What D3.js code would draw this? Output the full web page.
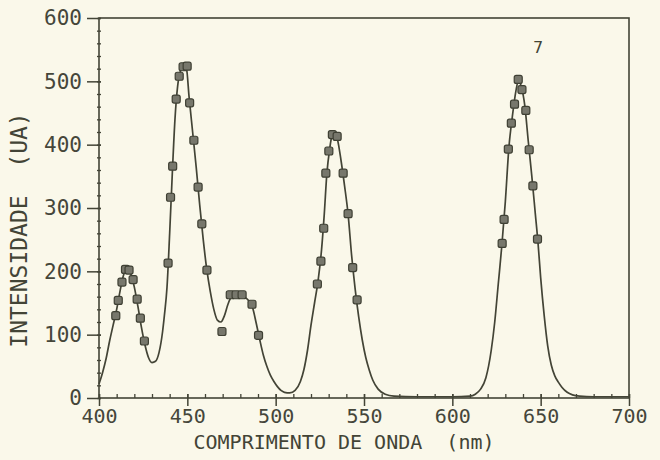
<!DOCTYPE html>
<html>
<head>
<meta charset="utf-8">
<script src="https://cdn.jsdelivr.net/npm/d3@7"></script>
<style>
  html, body { margin: 0; padding: 0; background: #faf8ea; }
  svg { display: block; }
  .axis text { font-family: "DejaVu Sans Mono", monospace; fill: #45463a; }
</style>
</head>
<body>
<div id="chart"></div>
<script>
// wavelength ticks and intensity ticks
const xTicks = [400, 450, 500, 550, 600, 650, 700];
const yTicks = [0, 100, 200, 300, 400, 500, 600];

// measured points (nm, UA)
const pointNm = [409.5, 410.9, 413.0, 415.0, 417.0, 419.3, 421.6, 423.4, 425.7,
  439.1, 440.5, 441.7, 443.7, 445.4, 447.6, 449.9, 451.3, 453.7, 456.1, 458.2, 461.1,
  469.6, 474.3, 477.6, 481.0, 486.6, 490.3,
  523.6, 525.6, 527.2, 528.4, 530.1, 532.1, 534.8, 538.2, 541.0, 543.6, 546.1,
  628.2, 629.3, 631.7, 633.4, 635.2, 637.3, 639.4, 641.6, 643.5, 645.6, 648.2];
const pointVal = [130, 154, 183, 203, 202, 187, 156, 126, 90,
  213, 317, 366, 472, 508, 523, 524, 466, 407, 333, 275, 202,
  105, 163, 163, 163, 148, 99,
  180, 216, 268, 355, 390, 416, 413, 355, 291, 206, 155,
  244, 282, 393, 434, 464, 503, 487, 454, 392, 335, 251];

// fitted curve
const curveNm = [400, 402, 404, 406, 408, 410, 412, 414, 416, 418, 420, 422, 424, 426, 428, 430, 432, 434, 436,
  437, 438.5, 440, 441.5, 443, 444.5, 446, 448, 449.5, 451, 453, 455, 457, 459, 461, 463, 465, 467, 469,
  471, 473, 475, 478, 481, 484, 487, 489, 491, 493, 495, 497, 499, 501, 503, 505, 508, 511, 514, 516,
  518, 520, 522, 524, 526, 527.5, 529, 530.5, 532, 533.5, 535, 537, 539, 541, 543, 545, 547, 549, 551,
  553, 555, 558, 562, 567, 580, 600, 610, 613, 616, 619, 622, 624, 626, 628, 630, 632, 634, 636, 637.5,
  639, 641, 643, 645, 647, 648.5, 650, 652, 654, 656, 658, 660, 662, 665, 668, 672, 680, 700];
const curveVal = [22, 40, 62, 90, 115, 140, 170, 195, 203, 196, 175, 145, 112, 84, 64, 56, 58, 72, 105,
  130, 175, 260, 355, 440, 492, 515, 524, 520, 475, 420, 365, 305, 250, 203, 168, 140, 123, 120,
  130, 148, 160, 164, 162, 156, 142, 118, 92, 68, 50, 36, 26, 18, 12, 9, 8, 12, 26, 45,
  75, 115, 150, 185, 235, 290, 355, 392, 415, 418, 408, 375, 335, 290, 225, 172, 128, 92, 64,
  44, 28, 14, 6, 3, 2, 2, 3, 6, 14, 32, 75, 120, 180, 240, 310, 395, 445, 485, 502,
  492, 462, 405, 350, 290, 245, 190, 130, 82, 52, 35, 25, 17, 9, 5, 3, 2, 2];

const ink = "#434436";
const width = 660;
const height = 460;
const margin = {top: 18, right: 31, bottom: 62, left: 99};

const svg = d3.select("#chart").append("svg")
    .attr("width", width)
    .attr("height", height)
    .style("background", "#faf8ea");

const x = d3.scaleLinear()
  .domain([400, 700])
  .range([margin.left, width - margin.right]);

const y = d3.scaleLinear()
  .domain([0, 600])
  .range([height - margin.bottom, margin.top]);

// minor ticks
svg.append("g")
  .call(d3.axisBottom(x).tickValues(d3.range(400, 701, 10)).tickSize(-4).tickFormat(""))
  .attr("transform", `translate(0,${y(0)})`)
  .call(g => g.select(".domain").remove())
  .call(g => g.selectAll("line").attr("stroke", ink).attr("stroke-width", 1.3));

svg.append("g")
  .call(d3.axisLeft(y).tickValues(d3.range(0, 601, 20)).tickSize(3).tickFormat(""))
  .attr("transform", `translate(${x(400)},0)`)
  .call(g => g.select(".domain").remove())
  .call(g => g.selectAll("line").attr("stroke", ink).attr("stroke-width", 1.3).attr("x2", 2).attr("x1", -2));

// frame
svg.append("rect")
  .attr("x", x(400))
  .attr("y", y(600))
  .attr("width", x(700) - x(400))
  .attr("height", y(0) - y(600))
  .attr("fill", "none")
  .attr("stroke", ink)
  .attr("stroke-width", 1.6);

svg.append("g")
  .attr("class", "axis axis--x")
  .attr("transform", `translate(0,${y(0)})`)
  .call(d3.axisBottom(x).tickValues(xTicks).tickSize(8).tickPadding(3))
  .call(g => g.select(".domain").remove())
  .call(g => g.selectAll("line").attr("stroke", ink).attr("stroke-width", 1.5).attr("y1", -4))
  .call(g => g.selectAll("text").attr("font-size", 20));

svg.append("g")
  .attr("class", "axis axis--y")
  .attr("transform", `translate(${x(400)},0)`)
  .call(d3.axisLeft(y).tickValues(yTicks).tickSize(12).tickPadding(5))
  .call(g => g.select(".domain").remove())
  .call(g => g.selectAll("line").attr("stroke", ink).attr("stroke-width", 1.5).attr("x2", -12).attr("x1", 2))
  .call(g => g.selectAll("text").attr("font-size", 21));

// axis titles
svg.append("text")
  .attr("x", (x(400) + x(700)) / 2 - 20)
  .attr("y", 449)
  .attr("text-anchor", "middle")
  .attr("font-family", "DejaVu Sans Mono, monospace")
  .attr("font-size", 20)
  .attr("fill", ink)
  .attr("xml:space", "preserve")
  .text("COMPRIMENTO DE ONDA  (nm)");

svg.append("text")
  .attr("transform", `translate(27,${(y(0) + y(600)) / 2 + 22}) rotate(-90)`)
  .attr("text-anchor", "middle")
  .attr("font-family", "DejaVu Sans Mono, monospace")
  .attr("font-size", 23)
  .attr("fill", ink)
  .attr("xml:space", "preserve")
  .text("INTENSIDADE  (UA)");

svg.append("text")
  .attr("x", x(648.5))
  .attr("y", y(545))
  .attr("text-anchor", "middle")
  .attr("font-family", "DejaVu Sans, sans-serif")
  .attr("font-size", 16)
  .attr("fill", ink)
  .text("7");

// curve
const curve = curveNm.map((d, i) => ({nm: d, v: curveVal[i]}));
const line = d3.line()
  .x(d => x(d.nm))
  .y(d => y(d.v))
  .curve(d3.curveMonotoneX);

svg.append("path")
  .datum(curve)
  .attr("d", line)
  .attr("fill", "none")
  .attr("stroke", ink)
  .attr("stroke-width", 1.7);

// points
const points = pointNm.map((d, i) => ({nm: d, v: pointVal[i]}));
svg.append("g")
  .selectAll("rect")
  .data(points)
  .join("rect")
    .attr("x", d => x(d.nm) - 4)
    .attr("y", d => y(d.v) - 4)
    .attr("width", 8)
    .attr("height", 8)
    .attr("rx", 2)
    .attr("fill", "#77776c")
    .attr("stroke", "#3f4034")
    .attr("stroke-width", 1.2);
</script>
</body>
</html>
